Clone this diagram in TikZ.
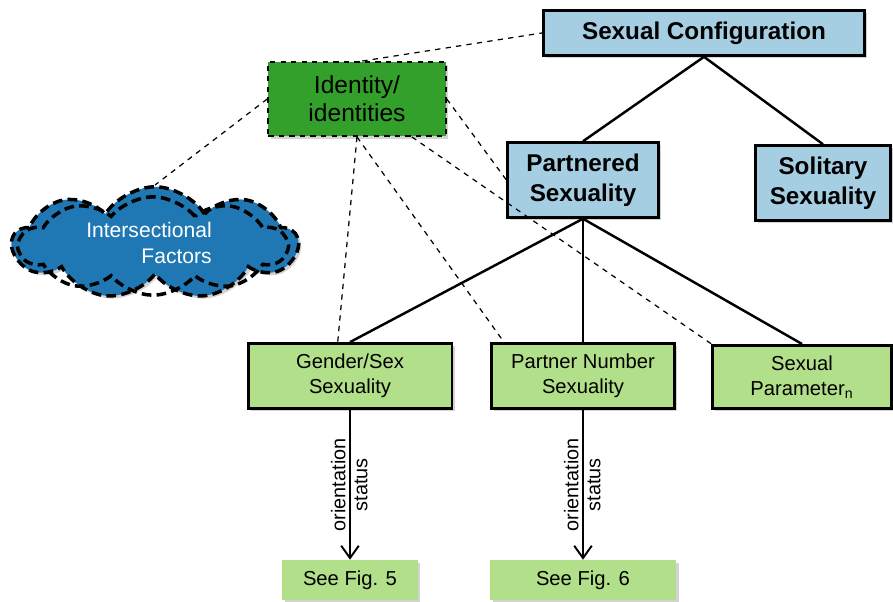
\documentclass[tikz,border=0pt]{standalone}
\usepackage{fontspec}
\setmainfont{Liberation Sans}
\usetikzlibrary{shapes.symbols,shadows,arrows.meta}

\definecolor{azulclaro}{RGB}{166,206,227}
\definecolor{azulnube}{RGB}{31,120,180}
\definecolor{verdeosc}{RGB}{51,160,44}
\definecolor{verdeclaro}{RGB}{178,223,138}

\begin{document}
\begin{tikzpicture}[x=0.02cm,y=-0.02cm,
		sombra/.style={drop shadow={opacity=0.35,shadow xshift=1.5pt,shadow yshift=-1.5pt}},
		raiz/.style={draw,line width=1.6pt,fill=azulclaro,sombra,align=center,
			font=\fontsize{13.8}{17}\selectfont\bfseries},
		hoja/.style={draw,line width=1.6pt,fill=verdeclaro,sombra,align=center,
			font=\fontsize{11.5}{14.5}\selectfont},
		fig/.style={fill=verdeclaro,sombra,align=center,
			font=\fontsize{11.5}{14}\selectfont},
		nube/.style={cloud,draw,line width=2pt,dash pattern=on 5.5pt off 3pt,inner sep=0pt},
		rama/.style={line width=1.4pt},
		enlace/.style={dashed,line width=0.7pt},
		etiqueta/.style={rotate=90,inner sep=2pt,font=\fontsize{11.3}{13}\selectfont}]
	\useasboundingbox (0,0) rectangle (893,602);

	% Cajas superiores
	\node[raiz,minimum width=183pt,minimum height=25.5pt] (config) at (704,33) {Sexual Configuration};
	\node[raiz,minimum width=85.6pt,minimum height=42.5pt] (pareja) at (583,180) {Partnered\\Sexuality};
	\node[raiz,minimum width=77pt,minimum height=42.5pt] (solitaria) at (823,183) {Solitary\\Sexuality};

	% Identidad y nube
	\node[draw,dashed,line width=1.2pt,fill=verdeosc,sombra,align=center,
		minimum width=101pt,minimum height=42pt,font=\fontsize{14}{16}\selectfont]
		(identidad) at (357,99) {Identity/\\identities};
	\node[nube,cloud puffs=9,cloud puff arc=115,aspect=2.6,fill=azulnube,sombra,
		minimum width=162pt,minimum height=64pt] (factores) at (155,243) {};
	\node[nube,cloud puffs=10,cloud puff arc=100,aspect=2.8,
		minimum width=152pt,minimum height=56pt] (factores2) at (153,246) {};
	\node[text=white,align=right,font=\fontsize{12}{14.5}\selectfont] (factorestxt) at (149,243)
		{Intersectional\\Factors};

	% Cajas verdes
	\node[hoja,minimum width=116pt,minimum height=37pt] (genero) at (350,376) {Gender/Sex\\Sexuality};
	\node[hoja,minimum width=104pt,minimum height=37pt] (numero) at (583,376) {Partner Number\\Sexuality};
	\node[hoja,minimum width=101.5pt,minimum height=36pt] (parametro) at (802,377) {Sexual\\Parameter\textsubscript{n}};
	\node[fig,minimum width=77pt,minimum height=22.7pt] (fig5) at (350,580) {See Fig. 5};
	\node[fig,minimum width=106pt,minimum height=22.7pt] (fig6) at (583,580) {See Fig. 6};

	% Ramas
	\draw[rama] (config.south) -- (pareja.north);
	\draw[rama] (config.south) -- (solitaria.north);
	\draw[rama] (pareja.south) -- (genero.north);
	\draw[rama] (pareja.south) -- (numero.north);
	\draw[rama] (pareja.south) -- (parametro.north);

	% Enlaces discontinuos
	\draw[enlace] ([xshift=3pt]identidad.north) -- (config.west);
	\draw[enlace] (identidad.west) -- (factores.north);
	\draw[enlace] (identidad.south) -- ([xshift=-7pt]genero.north);
	\draw[enlace] (identidad.south) -- ([xshift=-45pt]numero.north);
	\draw[enlace] (identidad.east) -- (pareja.west);
	\draw[enlace] (identidad) -- (parametro.north west);

	% Flechas
	\draw[line width=1.1pt,-{Straight Barb[length=7pt,width=10pt]}] (genero.south) -- (fig5.north)
		node[etiqueta,midway,anchor=south] {orientation}
		node[etiqueta,midway,anchor=north] {status};
	\draw[line width=1.1pt,-{Straight Barb[length=7pt,width=10pt]}] (numero.south) -- (fig6.north)
		node[etiqueta,midway,anchor=south] {orientation}
		node[etiqueta,midway,anchor=north] {status};

\end{tikzpicture}
\end{document}
